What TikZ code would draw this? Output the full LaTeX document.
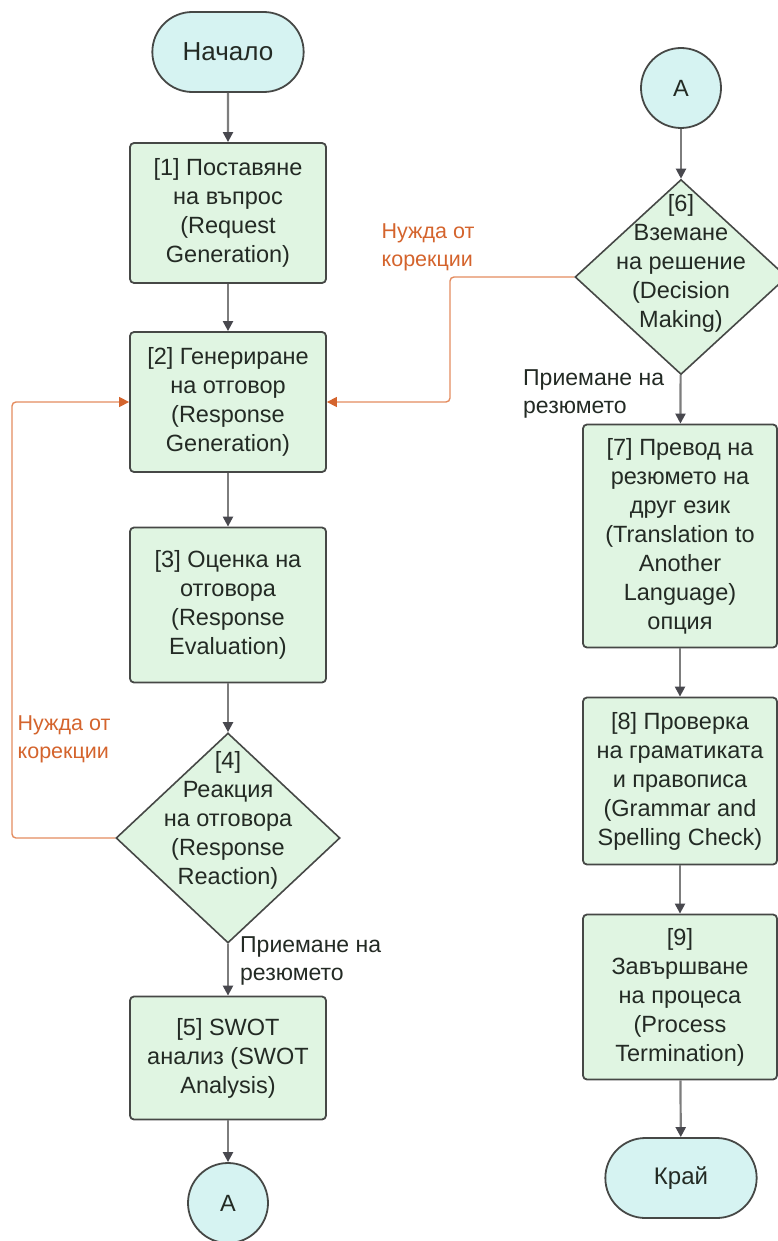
\documentclass[tikz,border=0pt]{standalone}
\usepackage{fontspec}
\setmainfont{Liberation Sans}
\usetikzlibrary{shapes.geometric,
				shapes.misc,
				arrows.meta}

\definecolor{boxfill}{RGB}{224,245,226}
\definecolor{termfill}{RGB}{214,243,242}
\definecolor{edgegray}{RGB}{70,72,70}
\definecolor{flowgray}{RGB}{125,125,125}
\definecolor{headgray}{RGB}{72,72,78}
\definecolor{loopline}{RGB}{228,140,95}
\definecolor{looptext}{RGB}{212,100,45}
\definecolor{ink}{RGB}{35,42,36}

\tikzset{
	stepbox/.style={draw=edgegray, fill=boxfill, line width=1.8pt, rounded corners=4pt,
		minimum width=196pt, align=center, text=ink, inner sep=0pt,
		font=\fontsize{23.5}{29}\selectfont},
	decision/.style={draw=edgegray, fill=boxfill, line width=1.6pt, diamond,
		inner sep=0pt, aspect=1},
	dtext/.style={align=center, text=ink, inner sep=0pt, font=\fontsize{23.5}{29}\selectfont},
	terminal/.style={draw=edgegray, fill=termfill, line width=1.8pt, rounded rectangle,
		minimum width=158pt, minimum height=80pt, text=ink, font=\fontsize{24}{29}\selectfont},
	connector/.style={draw=edgegray, fill=termfill, line width=1.8pt, circle,
		minimum size=80pt, inner sep=0pt, text=ink, font=\fontsize{23.5}{29}\selectfont},
	flow/.style={draw=flowgray, line width=2.2pt,
		-{Triangle[length=10pt,width=10pt,color=headgray]}},
	back/.style={draw=loopline, line width=1.4pt, rounded corners=4pt,
		-{Triangle[length=10pt,width=10pt,color=looptext]}},
	note/.style={align=left, text=ink, inner sep=0pt, font=\fontsize{23}{28}\selectfont},
	warn/.style={align=left, text=looptext, inner sep=0pt, font=\fontsize{21.5}{28}\selectfont}
}

\begin{document}
\begin{tikzpicture}[x=1pt, y=-1pt]

\useasboundingbox (0,0) rectangle (778,1241);

% left column
\node[terminal, font=\fontsize{26}{29}\selectfont] (start) at (228,52) {Начало};
\node[stepbox, minimum height=140pt] (req) at (228,213) {[1] Поставяне\\на въпрос\\(Request\\Generation)};
\node[stepbox, minimum height=140pt] (gen) at (228,402) {[2] Генериране\\на отговор\\(Response\\Generation)};
\node[stepbox, minimum height=155pt] (eval) at (228,605) {[3] Оценка на\\отговора\\(Response\\Evaluation)};
\node[decision, minimum width=224pt, minimum height=210pt] (react) at (228,838) {};
\node[dtext] (reacttext) at (228,820) {[4]\\Реакция\\на отговора\\(Response\\Reaction)};
\node[stepbox, minimum height=123pt] (swot) at (228,1058) {[5] SWOT\\анализ (SWOT\\Analysis)};
\node[connector] (outA) at (228,1203) {A};

% right column
\node[connector] (inA) at (681,88) {A};
\node[decision, minimum width=212pt, minimum height=195pt] (decide) at (681,277) {};
\node[dtext] (decidetext) at (681,263) {[6]\\Вземане\\на решение\\(Decision\\Making)};
\node[stepbox, minimum width=194pt, minimum height=223pt] (trans) at (680,536) {[7] Превод на\\резюмето на\\друг език\\(Translation to\\Another\\Language)\\опция};
\node[stepbox, minimum width=194pt, minimum height=167pt] (check) at (680,781) {[8] Проверка\\на граматиката\\и правописа\\(Grammar and\\Spelling Check)};
\node[stepbox, minimum width=194pt, minimum height=165pt] (term) at (680,997) {[9]\\Завършване\\на процеса\\(Process\\Termination)};
\node[terminal] (finish) at (681,1178) {Край};

\coordinate (leftturn) at (12,838);
\coordinate (rightturn) at (450,277);

\draw[flow] (start) -- (req);
\draw[flow] (req) -- (gen);
\draw[flow] (gen) -- (eval);
\draw[flow] (eval) -- (react);
\draw[flow] (react) -- (swot);
\draw[flow] (swot) -- (outA);

\draw[flow] (inA) -- (decide);
\draw[flow] (decide) -- (trans);
\draw[flow] (trans) -- (check);
\draw[flow] (check) -- (term);
\draw[flow] (term) -- (finish);

\draw[back] (react.west) -- (leftturn) |- (gen.west);
\draw[back] (decide.west) -- (rightturn) |- (gen.east);

\node[warn] (fixleft) at (64,739) {Нужда от\\корекции};
\node[warn] (fixright) at (428,247) {Нужда от\\корекции};
\node[note, anchor=west] (okleft) at (240,961) {Приемане на\\резюмето};
\node[note, anchor=west] (okright) at (523,394) {Приемане на\\резюмето};

\end{tikzpicture}
\end{document}
